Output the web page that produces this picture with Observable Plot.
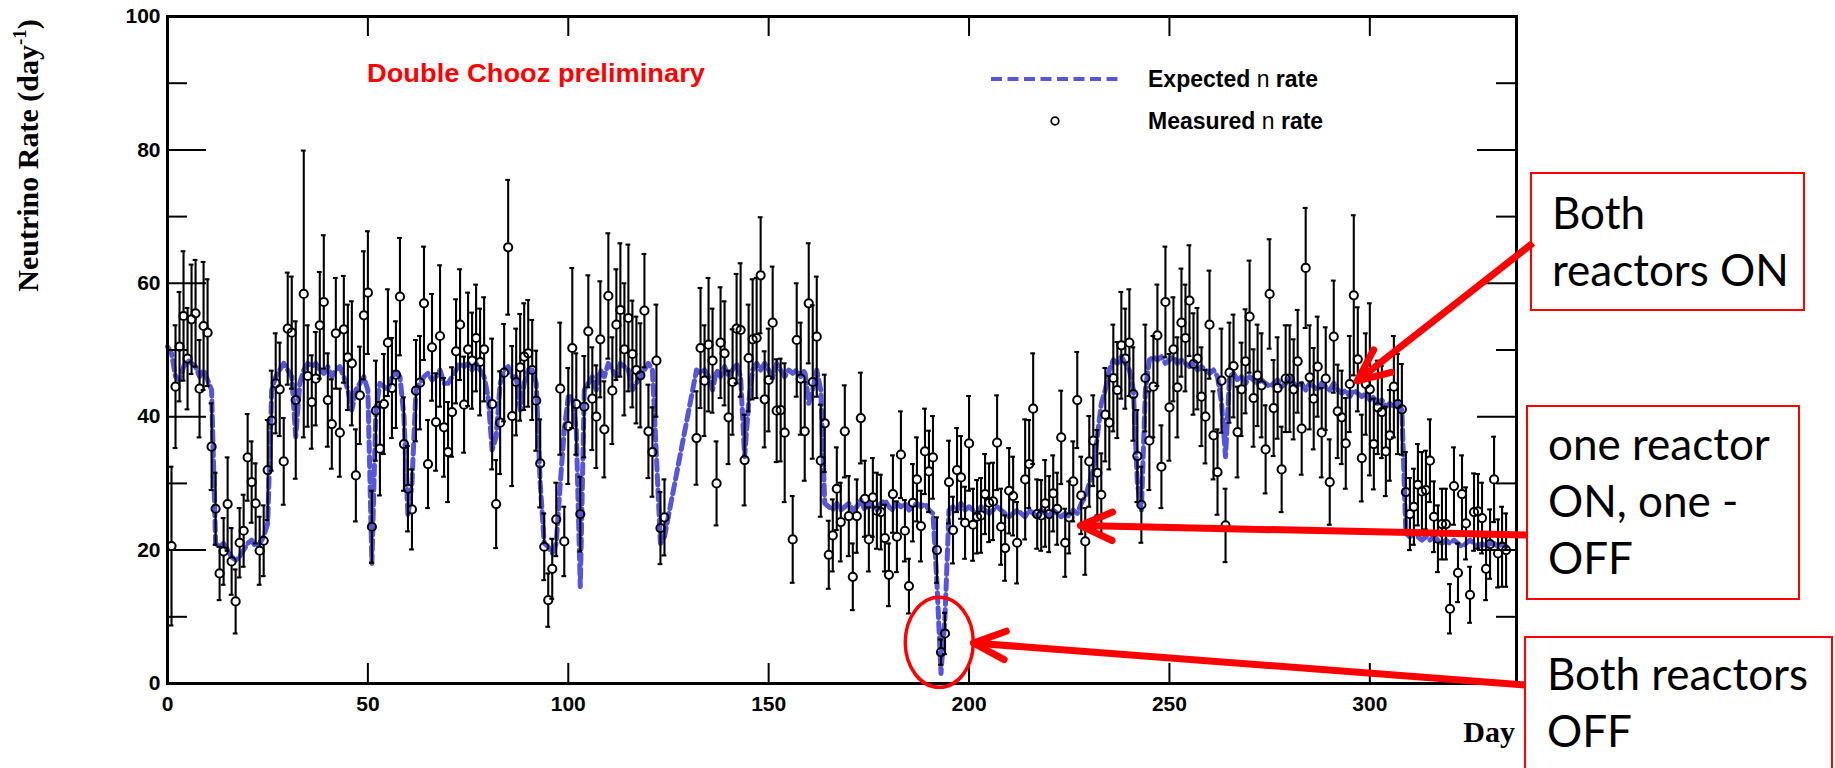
<!DOCTYPE html>
<html>
<head>
<meta charset="utf-8">
<script src="https://cdn.jsdelivr.net/npm/d3@7"></script>
<script src="https://cdn.jsdelivr.net/npm/@observablehq/plot@0.6"></script>
<style>
  html, body { margin: 0; padding: 0; background: #fff; }
  #chart { position: relative; width: 1835px; height: 768px; overflow: hidden; }
  #chart svg { display: block; }
</style>
</head>
<body>
<div id="chart"></div>
<script>
// ---------------- data ----------------
const measDay = [
  1,2,3,4,5,6,7,8,9,10,
  11,12,13,14,15,16,17,18,19,20,
  21,22,23,24,25,26,27,28,29,30,
  31,32,34,35,36,37,38,39,40,
  41,42,43,44,45,46,47,48,49,50,
  51,52,53,54,55,56,57,58,59,60,
  61,62,63,64,65,66,67,68,69,70,
  71,72,73,74,75,76,77,78,79,
  81,82,83,84,85,86,87,88,89,90,
  91,92,93,94,95,96,97,98,99,100,
  101,102,103,104,105,106,107,108,109,110,
  111,112,113,114,115,116,117,118,119,120,
  121,122,123,124,
  132,133,134,135,136,137,138,139,140,
  141,142,143,144,145,146,147,148,149,150,
  151,152,153,154,156,157,158,159,160,
  161,162,163,164,165,166,167,168,169,170,
  171,172,173,174,175,176,177,178,179,180,
  181,182,183,184,185,186,187,188,189,190,
  191,192,193,194,195,196,197,198,199,200,
  201,202,203,204,205,206,207,208,209,210,
  211,212,214,215,216,217,218,219,220,
  221,222,223,224,225,226,227,228,229,230,
  231,232,233,234,235,236,237,238,239,240,
  241,242,243,244,245,246,247,248,249,250,
  251,252,253,254,255,256,257,258,259,260,
  261,262,263,264,265,266,267,268,269,270,
  271,272,273,274,275,276,277,278,279,280,
  281,282,283,284,285,286,287,288,289,290,
  291,292,293,294,295,296,297,298,299,300,
  301,302,303,304,305,306,307,308,309,310,
  311,312,313,314,315,316,317,318,319,320,
  321,322,323,324,325,326,327,328,329,330,
  331,332,333,334
];
const measRate = [
  20.6,44.5,50.5,55.1,48.7,54.6,55.5,44.2,53.6,52.6,
  35.5,26.2,16.5,19.8,26.9,18.3,12.3,21.1,22.9,33.9,
  30.2,27.0,19.9,21.4,32.0,39.4,45.0,44.1,33.3,53.2,
  52.6,42.5,58.4,46.1,42.2,45.7,53.7,57.2,42.5,
  38.9,52.5,37.6,53.1,48.9,48.0,31.2,43.2,55.2,58.6,
  23.5,40.9,35.2,41.9,51.1,44.3,46.3,58.0,35.9,29.2,
  26.1,43.9,45.1,57.0,32.9,50.4,39.2,52.1,38.4,34.7,
  40.7,49.8,53.8,41.8,50.1,48.4,51.8,48.2,50.1,
  41.9,26.9,39.1,46.6,65.4,40.1,45.2,47.4,49.0,49.5,
  47.0,42.4,33.0,20.5,12.5,17.2,24.6,44.2,21.3,38.6,
  50.3,41.9,25.4,41.5,52.8,42.7,40.0,51.6,38.1,58.1,
  43.9,53.8,56.0,50.1,54.8,49.4,47.0,46.2,55.9,37.8,
  34.7,48.4,23.3,24.9,
  36.8,50.3,45.4,50.8,48.4,30.0,51.1,49.5,39.9,
  45.2,53.2,53.0,33.5,48.8,51.6,51.8,61.2,42.6,45.5,
  54.1,40.9,41.0,37.6,21.6,51.5,45.7,37.8,57.0,
  45.2,52.0,33.4,39.0,19.3,22.2,29.2,24.2,37.8,25.1,
  16.0,25.1,39.8,27.7,21.6,27.9,25.9,25.7,21.8,16.3,
  28.4,22.0,34.3,22.9,14.6,27.1,30.6,23.6,34.8,31.8,
  33.9,20.0,4.7,7.5,30.2,23.0,32.0,30.9,24.1,36.0,
  23.8,25.0,25.2,28.4,27.1,27.3,36.1,23.5,20.3,28.9,
  28.1,21.1,30.6,32.9,41.2,25.4,25.2,27.0,25.4,
  28.5,26.2,36.9,21.1,24.9,30.3,42.5,28.2,21.3,33.3,
  36.4,31.6,28.3,40.3,39.1,45.8,44.0,50.7,48.7,51.1,
  43.4,34.1,26.8,45.8,36.4,44.5,52.2,32.5,57.2,41.4,
  50.1,44.4,54.1,51.8,57.4,47.9,48.7,43.0,40.0,53.8,
  37.2,31.7,45.4,23.7,46.6,47.6,37.7,44.1,48.3,55.0,
  42.8,46.2,44.7,35.1,58.4,41.3,44.3,32.1,45.7,45.7,
  44.1,48.3,38.2,62.3,45.9,42.7,47.5,37.6,45.7,30.2,
  52.0,40.8,39.9,36.0,44.9,58.2,48.6,33.8,44.9,44.1,
  35.9,41.4,40.7,34.8,37.2,44.5,41.9,41.1,28.7,25.4,
  26.5,29.8,28.8,29.0,33.4,25.0,21.7,23.9,23.9,11.2,
  29.6,16.6,28.4,24.0,13.3,25.7,25.8,24.8,17.2,20.9,
  30.6,19.5,20.5,20.0
];
const measErr = [
  11.9,9.2,8.2,9.7,7.6,8.2,8.0,7.3,9.6,8.0,
  6.5,5.4,4.0,5.0,7.0,5.0,4.8,5.2,5.4,6.5,
  6.1,6.0,5.1,5.3,7.5,7.5,7.5,7.0,6.5,8.4,
  8.4,11.8,21.5,7.6,7.0,7.0,8.0,10.0,7.0,
  6.7,8.3,6.6,8.0,7.9,9.3,6.9,7.3,9.6,9.2,
  5.4,7.5,7.0,7.5,8.0,7.5,8.0,8.8,7.0,6.4,
  6.0,7.6,7.0,8.5,6.6,8.0,7.3,10.6,7.4,7.5,
  6.7,7.8,8.3,7.2,8.5,7.2,8.0,8.0,7.8,
  9.8,6.6,7.7,7.3,10.1,10.5,8.0,8.0,8.0,8.0,
  7.5,7.5,6.6,5.0,4.0,4.5,5.5,9.9,5.2,8.7,
  12.0,7.6,5.6,7.6,8.4,7.7,7.7,8.7,7.2,9.4,
  8.0,8.3,10.0,9.9,11.0,8.0,8.0,7.8,8.5,7.0,
  6.7,8.4,5.4,5.7,
  7.0,9.0,8.3,10.0,7.8,6.3,8.3,7.8,7.0,
  7.9,8.2,10.0,6.8,8.0,9.0,9.0,8.7,7.2,7.7,
  8.4,7.7,7.7,10.4,6.5,8.5,8.4,7.4,9.0,
  11.5,9.0,8.4,7.3,5.1,5.4,6.2,5.9,6.9,6.0,
  5.0,5.5,6.8,5.7,4.8,5.9,5.7,5.6,5.0,4.7,
  5.8,5.3,6.5,4.6,4.1,5.8,6.3,5.3,6.4,6.1,
  6.2,4.9,1.9,3.1,6.2,5.0,6.3,6.2,5.4,7.1,
  5.4,5.5,5.6,6.0,5.9,5.8,7.1,5.7,4.9,6.4,
  5.9,6.1,9.0,6.6,8.3,5.2,5.3,6.5,5.7,
  5.7,5.4,7.0,5.1,5.4,6.0,7.2,5.8,5.0,6.8,
  6.8,6.4,6.2,7.0,7.0,8.0,7.2,8.0,7.5,8.0,
  7.0,6.9,5.7,8.0,7.4,7.6,7.6,6.2,8.3,8.0,
  7.8,7.5,8.1,8.0,8.3,7.6,7.6,7.4,7.0,8.1,
  6.6,6.4,7.8,5.5,7.5,7.7,6.8,7.0,7.8,8.4,
  7.3,7.6,7.8,6.6,8.2,7.2,7.6,6.4,8.0,8.0,
  7.5,7.7,6.9,9.0,7.8,7.6,7.5,6.7,7.7,6.4,
  8.4,7.0,7.0,6.8,7.2,12.0,7.8,6.5,7.6,12.9,
  6.8,7.0,6.9,6.7,6.8,7.6,7.5,6.8,6.0,5.4,
  5.7,6.1,5.9,5.9,6.2,5.3,5.0,5.3,5.3,3.7,
  5.8,4.4,5.8,5.4,4.2,5.8,5.6,5.3,4.7,5.2,
  6.4,5.1,6.0,5.5
];
const expDay = [
  0,1,2,3,4,5,6,7,8,9,
  10,11,12,13,14,15,16,17,18,19,
  20,21,22,23,24,25,26,27,28,29,
  30,31,32,33,34,35,36,37,38,39,
  40,41,42,43,44,45,46,47,48,49,
  50,51,52,53,54,55,56,57,58,59,
  60,61,62,63,64,65,66,67,68,69,
  70,71,72,73,74,75,76,77,78,79,
  80,81,82,83,84,85,86,87,88,89,
  90,91,92,93,94,95,96,97,98,99,
  100,101,102,103,104,105,106,107,108,109,
  110,111,112,113,114,115,116,117,118,119,
  120,121,122,123,124,
  132,133,134,135,136,137,138,139,
  140,141,142,143,144,145,146,147,148,149,
  150,151,152,153,154,155,156,157,158,159,
  160,161,162,163,164,165,166,167,168,169,
  170,171,172,173,174,175,176,177,178,179,
  180,181,182,183,184,185,186,187,188,189,
  190,191,192,193,194,195,196,197,198,199,
  200,201,202,203,204,205,206,207,208,209,
  210,211,212,213,214,215,216,217,218,219,
  220,221,222,223,224,225,226,227,228,229,
  230,231,232,233,234,235,236,237,238,239,
  240,241,242,243,244,245,246,247,248,249,
  250,251,252,253,254,255,256,257,258,259,
  260,261,262,263,264,265,266,267,268,269,
  270,271,272,273,274,275,276,277,278,279,
  280,281,282,283,284,285,286,287,288,289,
  290,291,292,293,294,295,296,297,298,299,
  300,301,302,303,304,305,306,307,308,309,
  310,311,312,313,314,315,316,317,318,319,
  320,321,322,323,324,325,326,327,328,329,
  330,331,332,333,334
];
const expRate = [
  50.5,49.5,46,45.5,47.5,48.5,48,47.5,46,47,
  45.5,44,21,20.5,21,20,19,18.5,19,20,
  21,21.5,20.5,21,22,24,44,46,47,48,
  47,46,37,45,47,48,47.5,48,47,46.5,
  47.5,46,47,47.5,46,44,41,44,45,46,
  44,18,41,45,44.5,44,46,46.5,46,40,
  25,30,44,45,46,46.5,45.5,46,47,45,
  45,46,47,48,47.5,48,47,48,47,46,
  43,35,37,45,47,47.5,46,46,41,45,
  47,47,45,30,21,20.5,19.5,21,30,38,
  43,43,38,14.5,44,45,46,44,47,46,
  48,47,46,48,47.5,47,44,45,46,47,
  48,47,34,21,22,
  47,46.5,47,46,44,47,46,47.5,
  46,47,48,46,34,42,47,48,47,48,
  47,46,48,47,46,47,46.5,47,46,47,
  42,44,47,44,27,26.5,26,27,26,26.5,
  27,26,26.5,27.5,26,27,26.5,26,27,27.5,
  26.5,26,27,26.5,27,26,26.5,27,26.5,27,
  26,25.5,15,1.5,10,26,26.5,26,27,26,
  26.5,26,25.5,26.5,26,25.5,26,26.5,26,25.5,
  25,25.5,26,25.5,25,26,25.5,25,26,25.5,
  25,26,25.5,25,25.5,25,26,25.5,27,28,
  30,32,37,42,44,47,48.5,48,49,48,
  47,44,30,26,44,48.5,49,48.5,49,48,
  48.5,49,48,48.5,48,47.5,48,47,47.5,47,
  46.5,47,46,42,34,46,46.5,45.5,46,45,
  46,45.5,45,45.5,45,44.5,45,45.5,44.5,45,
  46,45,44.5,45,44,45,44.5,44,45,44.5,
  44,45,44,43.5,44,43,44,43.5,43,43.5,
  42.5,43,42,42.5,41.5,42,41.5,42,41,22.5,
  22,22.5,22,21.5,22,21.5,22,21.5,21,21.5,
  21,21.5,21,20.5,21,21.5,21,20.5,21,20.5,
  21,21,20.5,21,20.5
];
const xTicks = [0, 50, 100, 150, 200, 250, 300];
const yMajor = [0, 20, 40, 60, 80, 100];
const yMinor = [10, 30, 50, 70, 90];

// annotation targets (data units) and texts
const boxTexts = [["Both", "reactors ON"], ["one reactor", "ON, one -", "OFF"], ["Both reactors", "OFF"]];
const arrowTips = [[297.0, 45.3], [227.9, 23.6], [201.2, 6.0]];
const circledPoint = [192.7, 6.1];

// ---------------- layout ----------------
const W = 1835, H = 768;
const mL = 167, mR = 319, mT = 16, mB = 85;
const xMax = 336.6;
const pxDay = (W - mL - mR) / xMax;
const pxUnit = (H - mT - mB) / 100;
const ink = "#000";
const blue = "#5656dc";
const red = "#ff0000";
const sans = "'Liberation Sans', Arial, Helvetica, sans-serif";
const serif = "'Liberation Serif', 'Times New Roman', serif";

const meas = measDay.map((d, i) => ({day: d, rate: measRate[i], err: measErr[i]}));
const expd = expDay.map((d, i) => ({day: d, rate: expRate[i]}));
const rDot = 4.1;
const gapU = rDot / pxUnit;
const capD = 2.4 / pxDay;
const barW = 2.1;

const chart = Plot.plot({
  width: W, height: H,
  marginLeft: mL, marginRight: mR, marginTop: mT, marginBottom: mB,
  x: {domain: [0, xMax], axis: null},
  y: {domain: [0, 100], axis: null},
  style: {background: "#fff", fontFamily: sans, overflow: "visible"},
  marks: [
    Plot.line(expd, {x: "day", y: "rate", stroke: blue, strokeWidth: 5, strokeDasharray: "10,5"}),
    Plot.ruleX(meas, {x: "day", y1: d => d.rate + gapU, y2: d => d.rate + d.err, stroke: ink, strokeWidth: barW}),
    Plot.ruleX(meas, {x: "day", y1: d => d.rate - d.err, y2: d => d.rate - gapU, stroke: ink, strokeWidth: barW}),
    Plot.ruleY(meas, {y: d => d.rate + d.err, x1: d => d.day - capD, x2: d => d.day + capD, stroke: ink, strokeWidth: barW}),
    Plot.ruleY(meas, {y: d => d.rate - d.err, x1: d => d.day - capD, x2: d => d.day + capD, stroke: ink, strokeWidth: barW}),
    Plot.dot(meas, {x: "day", y: "rate", r: rDot, stroke: ink, strokeWidth: 2, fill: "none"}),
    // inward ticks
    Plot.ruleX(xTicks, {x: d => d, y1: 0, y2: 20 / pxUnit, stroke: ink, strokeWidth: 2}),
    Plot.ruleX(xTicks, {x: d => d, y1: 100 - 20 / pxUnit, y2: 100, stroke: ink, strokeWidth: 2}),
    Plot.ruleY(yMajor, {y: d => d, x1: 0, x2: 39 / pxDay, stroke: ink, strokeWidth: 2}),
    Plot.ruleY(yMinor, {y: d => d, x1: 0, x2: 20 / pxDay, stroke: ink, strokeWidth: 2}),
    Plot.ruleY(yMajor, {y: d => d, x1: xMax - 39 / pxDay, x2: xMax, stroke: ink, strokeWidth: 2}),
    Plot.ruleY(yMinor, {y: d => d, x1: xMax - 20 / pxDay, x2: xMax, stroke: ink, strokeWidth: 2}),
    Plot.frame({stroke: ink, strokeWidth: 3}),
    Plot.text(xTicks, {x: d => d, y: 0, dy: 20.5, text: d => String(d), fontSize: 21, fontWeight: "bold", fill: ink, fontFamily: sans}),
    Plot.text(yMajor, {x: 0, y: d => d, dx: -7, text: d => String(d), textAnchor: "end", fontSize: 21, fontWeight: "bold", fill: ink, fontFamily: sans})
  ]
});
document.getElementById("chart").appendChild(chart);

// ---------------- labels, legend and annotations ----------------
const sx = chart.scale("x"), sy = chart.scale("y");
const svg = d3.select(chart);
const g = svg.append("g").attr("class", "annot").attr("text-anchor", "start");

// y axis title
const yt = g.append("text")
  .attr("transform", "translate(38,155.5) rotate(-90)")
  .attr("text-anchor", "middle")
  .attr("font-family", serif).attr("font-weight", "bold").attr("font-size", 30).attr("fill", ink);
yt.append("tspan").text("Neutrino Rate (day");
yt.append("tspan").attr("font-size", 19).attr("dy", -12).text("-1");
yt.append("tspan").attr("dy", 12).text(")");

// x axis title
g.append("text").attr("x", 1515).attr("y", 742).attr("text-anchor", "end")
  .attr("font-family", serif).attr("font-weight", "bold").attr("font-size", 30).attr("fill", ink).text("Day");

// experiment tag
g.append("text").attr("x", 367).attr("y", 82).attr("text-anchor", "start")
  .attr("font-family", sans).attr("font-weight", "bold").attr("font-size", 26).attr("fill", red)
  .attr("textLength", 338).attr("lengthAdjust", "spacingAndGlyphs")
  .text("Double Chooz preliminary");

// legend
g.append("line").attr("x1", 991).attr("x2", 1121).attr("y1", 79).attr("y2", 79)
  .attr("stroke", blue).attr("stroke-width", 4).attr("stroke-dasharray", "11,5.5");
g.append("circle").attr("cx", 1055).attr("cy", 121).attr("r", 3.8)
  .attr("fill", "none").attr("stroke", ink).attr("stroke-width", 1.8);
function legendLabel(y, word) {
  const t = g.append("text").attr("x", 1148).attr("y", y).attr("dy", "0.35em").attr("text-anchor", "start")
    .attr("font-family", sans).attr("font-size", 23).attr("font-weight", "bold").attr("fill", ink)
    .style("white-space", "pre");
  t.append("tspan").text(word + " ");
  t.append("tspan").attr("font-weight", "normal").text("n");
  t.append("tspan").text(" rate");
}
legendLabel(79, "Expected");
legendLabel(121, "Measured");

// annotation boxes
const boxes = [
  {x: 1531, y: 173, w: 273, h: 137, tx: 1552, base: [229, 286]},
  {x: 1527, y: 406, w: 272, h: 193, tx: 1548, base: [460, 517, 574]},
  {x: 1525, y: 637, w: 307, h: 170, tx: 1547, base: [690, 747]}
];
boxes.forEach((b, i) => {
  g.append("rect").attr("x", b.x).attr("y", b.y).attr("width", b.w).attr("height", b.h)
    .attr("fill", "#fff").attr("stroke", red).attr("stroke-width", 2);
  boxTexts[i].forEach((line, j) => {
    g.append("text").attr("x", b.tx).attr("y", b.base[j]).attr("text-anchor", "start")
      .attr("font-family", "Lato, 'Open Sans', sans-serif").attr("font-size", 44).attr("fill", ink)
      .text(line);
  });
});

// arrows
const arrowStarts = [[1533, 243], [1527, 535], [1525, 685]];
arrowTips.forEach((tp, i) => {
  const tx = sx.apply(tp[0]), ty = sy.apply(tp[1]);
  const [fx, fy] = arrowStarts[i];
  g.append("line").attr("x1", fx).attr("y1", fy).attr("x2", tx).attr("y2", ty)
    .attr("stroke", red).attr("stroke-width", 7);
  const ang = Math.atan2(fy - ty, fx - tx);
  const L = 35, a = 24 * Math.PI / 180;
  const p1 = [tx + L * Math.cos(ang - a), ty + L * Math.sin(ang - a)];
  const p2 = [tx + L * Math.cos(ang + a), ty + L * Math.sin(ang + a)];
  g.append("path").attr("d", `M${p1[0]},${p1[1]}L${tx},${ty}L${p2[0]},${p2[1]}`)
    .attr("fill", "none").attr("stroke", red).attr("stroke-width", 7)
    .attr("stroke-linecap", "round").attr("stroke-linejoin", "round");
});

// ellipse around the both-off points
g.append("ellipse").attr("cx", sx.apply(circledPoint[0])).attr("cy", sy.apply(circledPoint[1]))
  .attr("rx", 34).attr("ry", 45).attr("fill", "none").attr("stroke", red).attr("stroke-width", 3.5);
</script>
</body>
</html>
